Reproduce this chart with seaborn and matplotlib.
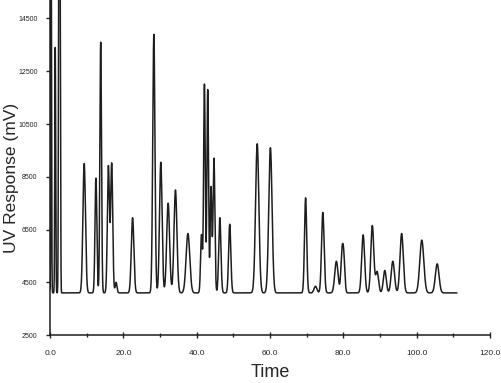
import matplotlib
matplotlib.use("Agg")
import matplotlib.pyplot as plt
from matplotlib.ticker import MultipleLocator, FormatStrFormatter
import seaborn as sns
import pandas as pd
import numpy as np

# peak table (time in min, apex value in mV, width sigma in min)
peak_times = [0.3, 1.4, 2.4, 2.7, 9.3, 12.5, 13.8, 15.9, 16.8, 18.0, 22.5,
              28.3, 30.2, 32.2, 34.2, 37.6, 41.3, 42.1, 43.0, 43.9, 44.7,
              46.3, 49.0, 56.5, 60.1, 69.7, 72.4, 74.4, 78.1, 79.6, 80.1,
              85.4, 87.9, 89.2, 91.3, 93.5, 95.9, 101.4, 105.6]
peak_apex = [17500, 13400, 17500, 17500, 9000, 8450, 13600, 8900, 9000, 4500, 6950,
             13900, 9050, 7500, 8000, 6350, 6300, 12000, 11800, 8100, 9200,
             6950, 6700, 9750, 9600, 7700, 4350, 7150, 5300, 5450, 5400,
             6300, 6650, 4900, 4950, 5300, 6350, 6100, 5200]
peak_sigma = [0.10, 0.12, 0.12, 0.12, 0.35, 0.25, 0.22, 0.28, 0.28, 0.25, 0.35,
              0.30, 0.35, 0.40, 0.40, 0.50, 0.25, 0.22, 0.22, 0.22, 0.25,
              0.30, 0.30, 0.45, 0.45, 0.30, 0.40, 0.35, 0.45, 0.30, 0.30,
              0.40, 0.40, 0.40, 0.40, 0.45, 0.45, 0.55, 0.50]
baseline = 4100
run_end = 111.0

time = np.arange(0, run_end, 0.02)
signal = np.full_like(time, baseline, dtype=float)
for t0, apex, s in zip(peak_times, peak_apex, peak_sigma):
    signal += (apex - baseline) * np.exp(-(time - t0) ** 2 / (2 * s ** 2))

df = pd.DataFrame({"Time": time, "UV": signal})

sns.set_theme(style="ticks")
plt.rcParams["font.family"] = ["Liberation Sans Narrow", "Liberation Sans", "DejaVu Sans"]

fig = plt.figure(figsize=(5.01, 3.83), dpi=100)
ax = fig.add_axes([0.1, 0.125, 0.878, 0.875])

sns.lineplot(data=df, x="Time", y="UV", ax=ax, color="#1e1e1e", linewidth=1.1)

ax.set_xlim(0, 120)
ax.set_ylim(2500, 15200)
ax.xaxis.set_major_locator(MultipleLocator(20))
ax.xaxis.set_minor_locator(MultipleLocator(10))
ax.xaxis.set_major_formatter(FormatStrFormatter("%.1f"))
ax.set_yticks([2500, 4500, 6500, 8500, 10500, 12500, 14500])
ax.tick_params(axis="x", which="major", direction="inout", length=5, width=1, labelsize=6, pad=8)
ax.tick_params(axis="x", which="minor", direction="inout", length=3, width=1)
ax.tick_params(axis="y", direction="out", length=3, width=1, labelsize=5, pad=6)

for side in ["top", "right"]:
    ax.spines[side].set_visible(False)
for side in ["left", "bottom"]:
    ax.spines[side].set_color("#1e1e1e")
    ax.spines[side].set_linewidth(1.1)

ax.set_xlabel("Time", fontsize=13, labelpad=5)
ax.set_ylabel("UV Response (mV)", fontsize=12.5)
ax.yaxis.set_label_coords(-0.07, 0.47)

fig.savefig("out.png", dpi=100)
